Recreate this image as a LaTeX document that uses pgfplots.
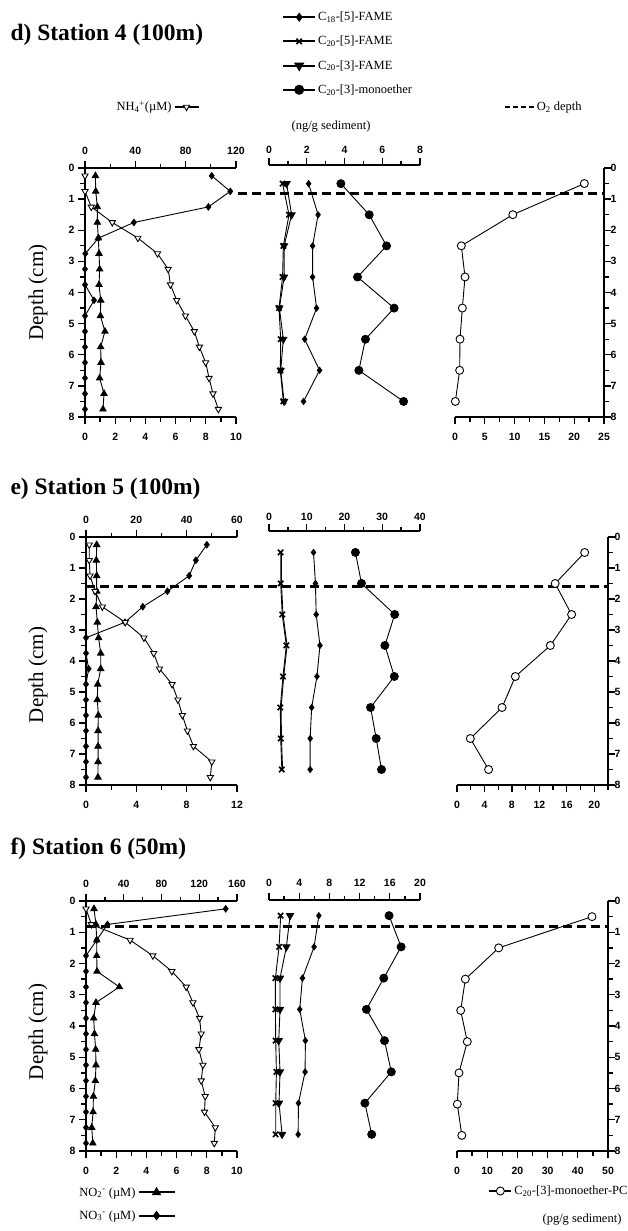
\documentclass[border=0pt]{standalone}
\usepackage{fontspec}
\setmainfont{Liberation Serif}
\setsansfont{Liberation Sans}
\usepackage{pgfplots}
\usepackage{pgfplotstable}
\pgfplotsset{compat=1.18}

% ---------------- data ----------------
\pgfplotstableread{
d no2 no3 nh4
0.25 0.69 8.39 0
0.75 0.71 9.62 0
1.25 0.82 8.17 5.0
1.75 0.82 3.24 21.7
2.25 0.88 0.90 42.0
2.75 0.93 0.02 57.6
3.25 0.97 0 66.1
3.75 0.93 0 67.9
4.25 1.04 0.60 72.9
4.75 1.02 0 79.8
5.25 1.32 0 86.9
5.75 1.04 0 90.9
6.25 1.06 0 95.9
6.75 0.97 0 98.6
7.25 1.26 0 101.7
7.75 1.19 0 106.0
}\tdL
\pgfplotstableread{
d c18 c205 c203 mono pc
0.5 2.10 0.72 0.93 3.81 21.7
1.5 2.60 1.06 1.20 5.31 9.7
2.5 2.31 0.76 0.80 6.23 1.06
3.5 2.31 0.72 0.80 4.69 1.68
4.5 2.52 0.53 0.55 6.63 1.23
5.5 1.89 0.62 0.76 5.11 0.84
6.5 2.68 0.60 0.62 4.76 0.78
7.5 1.83 0.76 0.80 7.13 0.06
}\tdM
\pgfplotstableread{
d no2 no3 nh4
0.25 0.85 9.60 1.3
0.75 0.82 8.73 1.3
1.25 0.85 8.20 1.6
1.75 0.85 6.47 3.6
2.25 0.80 4.51 6.5
2.75 0.90 3.10 15.6
3.25 1.00 0 23.0
3.75 1.17 0 26.9
4.25 1.17 0.21 29.2
4.75 0.93 0 34.2
5.25 0.90 0 36.5
5.75 0.98 0 38.3
6.25 0.96 0 40.3
6.75 0.96 0 42.7
7.25 0.96 0 50.0
7.75 0.95 0 49.4
}\teL
\pgfplotstableread{
d c18 c205 c203 mono pc
0.5 11.8 3.1 3.3 22.9 18.6
1.5 12.3 3.1 3.3 24.5 14.3
2.5 12.5 3.5 3.7 33.3 16.7
3.5 13.5 4.6 4.8 30.7 13.6
4.5 12.7 3.7 3.9 33.2 8.5
5.5 11.3 3.0 3.2 26.9 6.56
6.5 10.9 3.1 3.3 28.4 1.94
7.5 10.9 3.4 3.6 29.8 4.6
}\teM
\pgfplotstableread{
d no2 no3 nh4
0.25 0.53 9.25 0
0.75 0.66 1.42 5.7
1.25 0.71 0.71 46.7
1.75 0.71 0 70.8
2.25 0.73 0 91.0
2.75 2.21 0 106.2
3.25 0.66 0 113.3
3.75 0.51 0 120.3
4.25 0.56 0 122.1
4.75 0.64 0 119.6
5.25 0.66 0 123.9
5.75 0.62 0 122.1
6.25 0.49 0 126.3
6.75 0.47 0 125.6
7.25 0.38 0 137.0
7.75 0.45 0 135.9
}\tfL
\pgfplotstableread{
d c18 c205 c203 mono pc
0.5 6.60 1.55 2.79 15.9 44.7
1.5 5.97 1.33 2.30 17.5 13.8
2.5 4.43 0.85 1.46 15.2 2.76
3.5 4.07 0.85 1.46 12.9 1.22
4.5 4.82 0.89 1.29 15.3 3.4
5.5 4.78 0.98 1.46 16.2 0.66
6.5 3.90 0.89 1.33 12.7 0.1
7.5 3.86 0.89 1.73 13.6 1.6
}\tfM

% ---------------- styles ----------------
\pgfplotsset{
  base/.style={scale only axis, y dir=reverse, ymin=0, ymax=8, clip=false,
    tick align=outside,
    axis line style={-, line width=1.5pt},
    every tick/.style={black, line width=1.3pt},
    major tick length=7pt, minor tick length=4.5pt,
    tick label style={font=\fontsize{10.5}{12}\selectfont\sffamily\bfseries},
    /pgf/number format/assume math mode=true,
    every axis plot/.append style={black, line width=0.9pt},
    legend style={draw=none, fill=none, font=\fontsize{12.5}{15}\selectfont},
    legend cell align=left,
    legend image code/.code={\draw[mark repeat=2,mark phase=2,##1,line width=2pt] plot coordinates {(0pt,0pt) (16pt,0pt) (32pt,0pt)};},
  },
  xbot/.style={axis x line*=bottom, xticklabel shift=6pt},
  xtop/.style={axis x line*=top, xticklabel shift=3pt},
  yleft/.style={axis y line*=left, ytick={0,...,8}, minor ytick={0.5,1.5,...,7.5},
    every axis y label/.style={at={(axis description cs:#1)}, rotate=90, anchor=center, font=\fontsize{21}{24}\selectfont},
    ylabel={Depth (cm)}},
  yright/.style={axis y line*=right, ytick={0,...,8}, minor ytick={0.5,1.5,...,7.5}, yticklabel shift=-4pt},
  noy/.style={axis y line=none, ytick=\empty},
  no3/.style={mark=diamond*, mark size=3.2pt},
  no2/.style={mark=triangle*, mark size=3.6pt},
  nh4/.style={mark=triangle*, mark size=3.6pt, mark options={fill=white, rotate=180, line width=0.9pt}},
  c18/.style={mark=diamond*, mark size=3pt},
  c205/.style={mark=x, mark size=3.8pt, mark options={line width=1.6pt}},
  c203/.style={mark=triangle*, mark size=4pt, mark options={rotate=180}},
  mono/.style={mark=*, mark size=4pt},
  pcs/.style={mark=*, mark size=4pt, mark options={fill=white, line width=0.9pt}},
  o2/.style={line width=3pt, dash pattern=on 9pt off 5pt},
}

\begin{document}
\begin{tikzpicture}
\useasboundingbox (0pt,0pt) rectangle (627pt,-1231pt);

% ======== Panel d ========
\node[anchor=west, font=\fontsize{23.5}{26}\selectfont\bfseries] at (7pt,-35pt) {d) Station 4 (100m)};
\begin{axis}[base, yleft={-0.311,0.5}, at={(85pt,-168pt)}, anchor=north west, width=151pt, height=249pt,
  xmin=0, xmax=10, xbot, xtick={0,2,...,10}, minor xtick={1,3,...,9}]
  \addplot[no2] table[x=no2,y=d] {\tdL};
  \addplot[no3] table[x=no3,y=d] {\tdL};
\end{axis}
\begin{axis}[base, noy, at={(85pt,-168pt)}, anchor=north west, width=151pt, height=249pt,
  xmin=0, xmax=120, xtop, xtick={0,40,80,120}, minor xtick={20,60,100},
  legend plot pos=right,
  legend image code/.code={\draw[mark repeat=2,mark phase=2,#1,line width=2pt] plot coordinates {(0pt,0pt) (12pt,0pt) (24pt,0pt)};},
  legend style={at={(axis description cs:0.477,1.245)}, anchor=center}]
  \addplot[nh4] table[x=nh4,y=d] {\tdL};
  \addlegendentry{NH\textsubscript{4}\textsuperscript{+}(µM)}
\end{axis}
\begin{axis}[base, noy, at={(269pt,-165pt)}, anchor=north west, width=151pt, height=252pt, ymin=-0.1,
  xmin=0, xmax=8, xtop, xticklabel shift=1pt, xtick={0,2,...,8}, minor xtick={1,3,5,7},
  legend style={at={(axis description cs:0.0662,1.4425)}, anchor=west, row sep=10pt}]
  \addplot[c18] table[x=c18,y=d] {\tdM};
  \addlegendentry{C\textsubscript{18}-[5]-FAME}
  \addplot[c205] table[x=c205,y=d] {\tdM};
  \addlegendentry{C\textsubscript{20}-[5]-FAME}
  \addplot[c203] table[x=c203,y=d] {\tdM};
  \addlegendentry{C\textsubscript{20}-[3]-FAME}
  \addplot[mono] table[x=mono,y=d] {\tdM};
  \addlegendentry{C\textsubscript{20}-[3]-monoether}
\end{axis}
\node[font=\fontsize{12.5}{15}\selectfont] at (331pt,-127pt) {(ng/g sediment)};
\begin{axis}[base, yright, at={(455pt,-168pt)}, anchor=north west, width=149pt, height=249pt,
  xmin=0, xmax=25, xbot, xtick={0,5,...,25}, minor xtick={2.5,7.5,...,22.5},
  legend image code/.code={\draw[#1, line width=2.4pt, dash pattern=on 5pt off 3pt] (0pt,0pt) -- (29pt,0pt);},
  legend style={at={(axis description cs:0.594,1.245)}, anchor=center}]
  \addplot[pcs, forget plot] table[x=pc,y=d] {\tdM};
  \addplot[o2] coordinates {(-36.4,0.81) (25,0.81)};
  \addlegendentry{O\textsubscript{2} depth}
\end{axis}

% ======== Panel e ========
\node[anchor=west, font=\fontsize{23.5}{26}\selectfont\bfseries] at (7pt,-489pt) {e) Station 5 (100m)};
\begin{axis}[base, yleft={-0.318,0.444}, at={(86pt,-537pt)}, anchor=north west, width=151pt, height=248pt,
  xmin=0, xmax=12, xbot, xtick={0,4,8,12}, minor xtick={2,6,10}]
  \addplot[no2] table[x=no2,y=d] {\teL};
  \addplot[no3] table[x=no3,y=d] {\teL};
\end{axis}
\begin{axis}[base, noy, at={(86pt,-537pt)}, anchor=north west, width=151pt, height=248pt,
  xmin=0, xmax=60, xtop, xtick={0,20,40,60}, minor xtick={10,30,50}]
  \addplot[nh4] table[x=nh4,y=d] {\teL};
\end{axis}
\begin{axis}[base, noy, at={(269pt,-531pt)}, anchor=north west, width=151pt, height=254pt, ymin=-0.19,
  xmin=0, xmax=40, xtop, xticklabel shift=0pt, xtick={0,10,...,40}, minor xtick={5,15,25,35}]
  \addplot[mark=none] table[x=c203,y=d] {\teM};
  \addplot[c18] table[x=c18,y=d] {\teM};
  \addplot[c205] table[x=c205,y=d] {\teM};
  \addplot[mono] table[x=mono,y=d] {\teM};
\end{axis}
\begin{axis}[base, yright, at={(457pt,-537pt)}, anchor=north west, width=151pt, height=248pt,
  xmin=0, xmax=22, xbot, xtick={0,4,...,20}, minor xtick={2,6,...,22}]
  \addplot[pcs] table[x=pc,y=d] {\teM};
  \addplot[o2] coordinates {(-54,1.6) (22,1.6)};
\end{axis}

% ======== Panel f ========
\node[anchor=west, font=\fontsize{23.5}{26}\selectfont\bfseries] at (7pt,-849pt) {f) Station 6 (50m)};
\begin{axis}[base, yleft={-0.318,0.476}, at={(86pt,-901pt)}, anchor=north west, width=151pt, height=250pt,
  xmin=0, xmax=10, xbot, xtick={0,2,...,10}, minor xtick={1,3,...,9},
  legend plot pos=right,
  legend image code/.code={\draw[mark repeat=2,mark phase=2,#1,line width=2pt] plot coordinates {(0pt,0pt) (18pt,0pt) (36pt,0pt)};},
  legend style={at={(axis description cs:0.268,-0.212)}, anchor=center, row sep=9pt}]
  \addplot[no2] table[x=no2,y=d] {\tfL};
  \addlegendentry{NO\textsubscript{2}\textsuperscript{-} (µM)}
  \addplot[no3] table[x=no3,y=d] {\tfL};
  \addlegendentry{NO\textsubscript{3}\textsuperscript{-} (µM)}
\end{axis}
\begin{axis}[base, noy, at={(86pt,-901pt)}, anchor=north west, width=151pt, height=250pt,
  xmin=0, xmax=160, xtop, xtick={0,40,...,160}, minor xtick={20,60,...,140}]
  \addplot[nh4] table[x=nh4,y=d] {\tfL};
\end{axis}
\begin{axis}[base, noy, at={(269pt,-900pt)}, anchor=north west, width=151pt, height=250pt,
  xmin=0, xmax=20, xtop, xtick={0,4,...,20}, minor xtick={2,6,...,18}]
  \addplot[c18] table[x=c18,y=d] {\tfM};
  \addplot[c205] table[x=c205,y=d] {\tfM};
  \addplot[c203] table[x=c203,y=d] {\tfM};
  \addplot[mono] table[x=mono,y=d] {\tfM};
\end{axis}
\begin{axis}[base, yright, at={(457pt,-901pt)}, anchor=north west, width=151pt, height=250pt,
  xmin=0, xmax=50, xbot, xtick={0,10,...,50}, minor xtick={5,15,...,45},
  legend image code/.code={\draw[mark repeat=2,mark phase=2,#1,line width=2pt] plot coordinates {(0pt,0pt) (11pt,0pt) (22pt,0pt)};},
  legend style={at={(axis description cs:0.675,-0.16)}, anchor=center}]
  \addplot[pcs] table[x=pc,y=d] {\tfM};
  \addlegendentry{C\textsubscript{20}-[3]-monoether-PC}
  \addplot[o2, forget plot] coordinates {(-122.5,0.8) (50,0.8)};
\end{axis}
\node[font=\fontsize{12.5}{15}\selectfont] at (582pt,-1219pt) {(pg/g sediment)};
\end{tikzpicture}
\end{document}
